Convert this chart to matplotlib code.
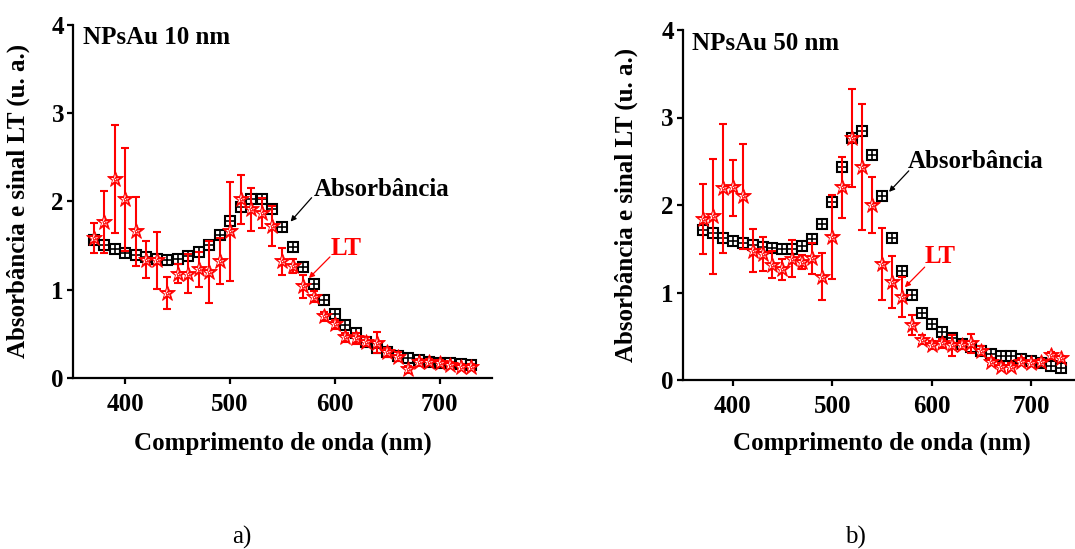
import numpy as np
import matplotlib
matplotlib.use("Agg")
import matplotlib.pyplot as plt

plt.rcParams['font.family'] = ['Liberation Serif', 'DejaVu Serif']
plt.rcParams['font.weight'] = 'bold'

# Wavelength grid (nm)
wavelength = list(range(370, 731, 10))

# Panel a) NPsAu 10 nm
abs_10 = [1.56, 1.50, 1.46, 1.42, 1.39, 1.37, 1.35, 1.34, 1.35, 1.38,
          1.43, 1.50, 1.62, 1.78, 1.94, 2.02, 2.02, 1.91, 1.71, 1.48,
          1.26, 1.06, 0.88, 0.72, 0.60, 0.505, 0.41, 0.34, 0.29, 0.25,
          0.23, 0.20, 0.18, 0.17, 0.165, 0.16, 0.15]
lt_10 = [1.58, 1.77, 2.25, 2.02, 1.66, 1.34, 1.33, 0.965, 1.18, 1.18,
         1.23, 1.20, 1.32, 1.66, 2.02, 1.91, 1.87, 1.72, 1.32, 1.27,
         1.04, 0.92, 0.70, 0.61, 0.46, 0.45, 0.41, 0.40, 0.29, 0.24,
         0.10, 0.18, 0.18, 0.17, 0.15, 0.13, 0.13]
lt_10_err = [0.17, 0.35, 0.61, 0.58, 0.39, 0.21, 0.32, 0.18, 0.105, 0.22,
             0.20, 0.35, 0.26, 0.56, 0.28, 0.245, 0.17, 0.23, 0.15, 0.08,
             0.13, 0.06, 0.05, 0.05, 0.05, 0.06, 0.05, 0.12, 0.05, 0.05,
             0.04, 0.04, 0.03, 0.03, 0.03, 0.03, 0.03]

# Panel b) NPsAu 50 nm
abs_50 = [1.71, 1.68, 1.62, 1.59, 1.57, 1.54, 1.52, 1.505, 1.50, 1.50,
          1.53, 1.61, 1.78, 2.04, 2.43, 2.77, 2.85, 2.57, 2.10, 1.62,
          1.25, 0.97, 0.77, 0.64, 0.55, 0.48, 0.41, 0.38, 0.33, 0.30,
          0.28, 0.27, 0.24, 0.22, 0.19, 0.16, 0.135]
lt_50 = [1.84, 1.87, 2.19, 2.20, 2.10, 1.48, 1.44, 1.32, 1.265, 1.385,
         1.35, 1.39, 1.18, 1.64, 2.20, 2.77, 2.43, 2.00, 1.33, 1.12,
         0.95, 0.63, 0.46, 0.40, 0.42, 0.40, 0.40, 0.42, 0.335, 0.21,
         0.15, 0.15, 0.21, 0.19, 0.21, 0.285, 0.25]
lt_50_err = [0.40, 0.66, 0.74, 0.32, 0.60, 0.25, 0.19, 0.15, 0.12, 0.21,
             0.08, 0.18, 0.27, 0.48, 0.35, 0.56, 0.72, 0.32, 0.41, 0.30,
             0.225, 0.11, 0.05, 0.05, 0.05, 0.12, 0.05, 0.11, 0.05, 0.04,
             0.04, 0.04, 0.04, 0.03, 0.03, 0.04, 0.03]

x_ticks = [400, 500, 600, 700]
y_ticks = [0, 1, 2, 3, 4]

FS = 18
RED = '#ff0000'

fig = plt.figure(figsize=(10.75, 5.49), dpi=100)


def draw_panel(rect, absorb, lt, lt_err, title, abs_txt, abs_arrow, lt_txt, lt_arrow,
               xlab_y, ylab_x):
    ax = fig.add_axes(rect)
    # absorbance: open squares with inner cross
    ax.plot(wavelength, absorb, ls='none', marker='s', ms=7.5, mfc='white',
            mec='black', mew=1.5, zorder=2, clip_on=False)
    ax.plot(wavelength, absorb, ls='none', marker='+', ms=7.5, mec='black',
            mew=1.2, zorder=2.1, clip_on=False)
    # thermal lens signal with error bars
    ax.errorbar(wavelength, lt, yerr=lt_err, fmt='none', ecolor=RED,
                elinewidth=1.5, capsize=3.2, capthick=1.5, zorder=3)
    ax.plot(wavelength, lt, ls='none', marker='*', ms=12, mfc=RED, mec=RED,
            mew=0.6, zorder=4, clip_on=False)
    ax.plot(wavelength, lt, ls='none', marker='*', ms=6.5, mfc='white',
            mec='white', mew=0, zorder=5, clip_on=False)
    ax.plot(wavelength, lt, ls='none', marker='*', ms=3.2, mfc='white',
            mec=RED, mew=0.5, zorder=6, clip_on=False)

    ax.set_xlim(350, 750)
    ax.set_ylim(0, 4)
    ax.set_xticks(x_ticks)
    ax.set_yticks(y_ticks)
    for s in ('top', 'right'):
        ax.spines[s].set_visible(False)
    for s in ('left', 'bottom'):
        ax.spines[s].set_linewidth(1.6)
    ax.tick_params(axis='both', direction='out', length=4.5, width=1.6,
                   labelsize=FS)
    ax.tick_params(axis='x', pad=6)
    ax.tick_params(axis='y', pad=2)
    for lab in ax.get_xticklabels() + ax.get_yticklabels():
        lab.set_fontweight('bold')

    ax.set_xlabel('Comprimento de onda (nm)', fontsize=FS, fontweight='bold')
    ax.set_ylabel('Absorbância e sinal LT (u. a.)', fontsize=FS, fontweight='bold')
    ax.xaxis.set_label_coords(0.5, xlab_y)
    ax.xaxis.label.set_va('center')
    ax.yaxis.set_label_coords(ylab_x, 0.5)
    ax.yaxis.label.set_va('center')

    ax.text(0.023, 0.995, title, transform=ax.transAxes, fontsize=FS,
            fontweight='bold', ha='left', va='top')

    ax.text(abs_txt[0], abs_txt[1], 'Absorbância', fontsize=FS, fontweight='bold',
            ha='left', va='baseline', color='black')
    ax.annotate('', xy=abs_arrow[1], xytext=abs_arrow[0],
                arrowprops=dict(arrowstyle='-|>', color='black', lw=0.9,
                                mutation_scale=8, shrinkA=0, shrinkB=0))
    ax.text(lt_txt[0], lt_txt[1], 'LT', fontsize=FS, fontweight='bold',
            ha='left', va='baseline', color=RED)
    ax.annotate('', xy=lt_arrow[1], xytext=lt_arrow[0],
                arrowprops=dict(arrowstyle='-|>', color=RED, lw=0.9,
                                mutation_scale=8, shrinkA=0, shrinkB=0))
    return ax


draw_panel([73 / 1075, 171 / 549, 419 / 1075, 353.5 / 549],
           abs_10, lt_10, lt_10_err, 'NPsAu 10 nm',
           (579.5, 2.06), ((577.8, 2.04), (557.7, 1.77)),
           (596, 1.39), ((595.3, 1.37), (575.2, 1.13)),
           -0.185, -0.131)

draw_panel([682.9 / 1075, 169 / 549, 398 / 1075, 350 / 549],
           abs_50, lt_50, lt_50_err, 'NPsAu 50 nm',
           (576, 2.42), ((577, 2.39), (557.2, 2.15)),
           (593, 1.34), ((593, 1.29), (573, 1.06)),
           -0.18, -0.142)

fig.text(242 / 1075, 1 - 537 / 549, 'a)', fontsize=FS, fontweight='normal',
         ha='center', va='center')
fig.text(855 / 1075, 1 - 537 / 549, 'b)', fontsize=FS, fontweight='normal',
         ha='center', va='center')

fig.savefig('out.png', dpi=100)
